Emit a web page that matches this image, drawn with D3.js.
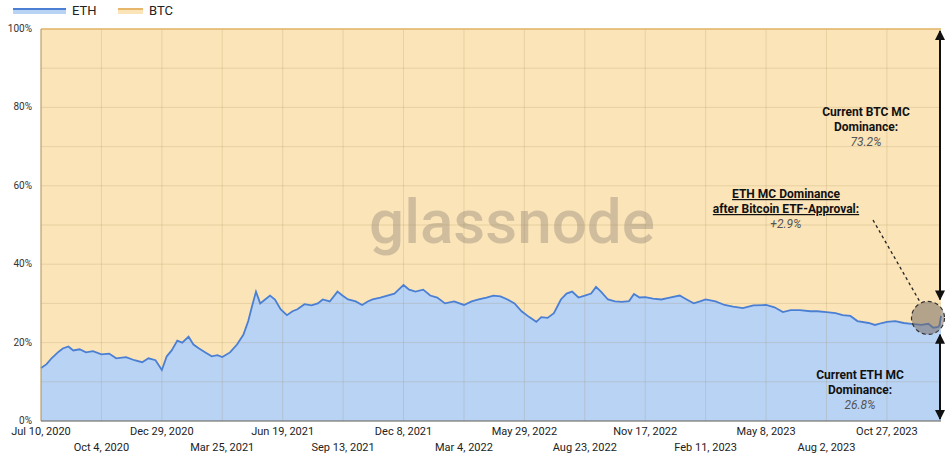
<!DOCTYPE html><html><head><meta charset="utf-8"><script src="https://cdn.jsdelivr.net/npm/d3@7"></script>
<style>body{margin:0;background:#fff;font-family:Roboto,"Noto Sans",sans-serif}</style></head><body><svg id="c" width="948" height="457"></svg><script>
const ethDates=["2020-07-10","2020-07-18","2020-07-25","2020-08-03","2020-08-10","2020-08-18","2020-08-25","2020-09-03","2020-09-12","2020-09-22","2020-10-04","2020-10-15","2020-10-25","2020-11-08","2020-11-20","2020-12-01","2020-12-10","2020-12-20","2020-12-29","2021-01-05","2021-01-12","2021-01-20","2021-01-27","2021-02-05","2021-02-12","2021-02-20","2021-03-01","2021-03-10","2021-03-18","2021-03-25","2021-04-05","2021-04-15","2021-04-24","2021-05-01","2021-05-06","2021-05-12","2021-05-18","2021-05-25","2021-06-01","2021-06-08","2021-06-16","2021-06-25","2021-07-03","2021-07-10","2021-07-20","2021-07-30","2021-08-08","2021-08-15","2021-08-25","2021-09-05","2021-09-12","2021-09-20","2021-10-01","2021-10-10","2021-10-18","2021-10-25","2021-11-05","2021-11-15","2021-11-25","2021-12-01","2021-12-08","2021-12-16","2021-12-25","2022-01-05","2022-01-15","2022-01-25","2022-02-05","2022-02-18","2022-03-04","2022-03-15","2022-03-25","2022-04-05","2022-04-15","2022-04-25","2022-05-05","2022-05-15","2022-05-25","2022-06-05","2022-06-15","2022-06-22","2022-07-01","2022-07-10","2022-07-20","2022-07-28","2022-08-05","2022-08-14","2022-08-23","2022-09-01","2022-09-08","2022-09-15","2022-09-25","2022-10-05","2022-10-15","2022-10-25","2022-11-01","2022-11-09","2022-11-17","2022-11-28","2022-12-10","2022-12-22","2023-01-05","2023-01-15","2023-01-25","2023-02-03","2023-02-11","2023-02-25","2023-03-10","2023-03-22","2023-04-05","2023-04-20","2023-05-08","2023-05-20","2023-06-01","2023-06-12","2023-06-25","2023-07-10","2023-07-20","2023-08-02","2023-08-15","2023-08-25","2023-09-05","2023-09-15","2023-10-01","2023-10-10","2023-10-20","2023-10-27","2023-11-08","2023-11-20","2023-12-01","2023-12-15","2023-12-25","2024-01-01","2024-01-08","2024-01-10","2024-01-12"];
const ethValues=[13.5,14.5,16,17.5,18.5,19,18,18.3,17.5,17.8,17,17.2,16,16.3,15.5,15,16,15.5,13,16.5,18,20.5,20,21.5,19.5,18.5,17.5,16.5,16.8,16.3,17.5,19.5,22,25.5,29,33,30,31,32,31,28.5,27,28,28.5,29.8,29.5,30,31,30.5,33,32,31,30.5,29.6,30.5,31,31.5,32,32.5,33.5,34.7,33.5,33,33.5,32,31.5,30,30.5,29.6,30.5,31,31.5,32,31.8,31,30,28,26.5,25.3,26.5,26.3,27.5,31,32.5,33,31.5,32,32.5,34.2,33,31,30.5,30.4,30.6,32.4,31.5,31.6,31.2,31,31.5,32,31,30,30.5,31,30.5,29.6,29.2,28.8,29.5,29.6,29,27.8,28.3,28.3,28,28,27.8,27.5,27,26.8,25.5,25,24.5,25,25.3,25.5,25,24.8,24.5,24.8,23.8,24,24.5,26.8];
const xTicks=["2020-07-10","2020-10-04","2020-12-29","2021-03-25","2021-06-19","2021-09-13","2021-12-08","2022-03-04","2022-05-29","2022-08-23","2022-11-17","2023-02-11","2023-05-08","2023-08-02","2023-10-27"];
const yTicks=[0,20,40,60,80,100];
const svg=d3.select("#c");
const pd=d3.timeParse("%Y-%m-%d");
const data=ethDates.map((d,i)=>({d:pd(d),v:ethValues[i]}));
const x=d3.scaleTime().domain([pd("2020-07-10"),pd("2024-01-12")]).range([41,941]);
const y=d3.scaleLinear().domain([0,100]).range([421,29]);
svg.append("rect").attr("x",41).attr("y",y(100)).attr("width",900).attr("height",y(0)-y(100)).attr("fill","#fae4b8");
svg.append("path").datum(data).attr("fill","#b9d3f5").attr("d",d3.area().x(d=>x(d.d)).y0(y(0)).y1(d=>y(d.v)));
const g=svg.append("g");
d3.range(0,101,10).forEach(v=>g.append("line").attr("x1",41).attr("x2",941).attr("y1",y(v)).attr("y2",y(v)).attr("stroke","rgba(150,120,60,0.18)"));
xTicks.forEach(t=>g.append("line").attr("x1",x(pd(t))).attr("x2",x(pd(t))).attr("y1",y(0)).attr("y2",y(100)).attr("stroke","rgba(150,120,60,0.18)"));
svg.append("line").attr("x1",41).attr("x2",941).attr("y1",y(100)).attr("y2",y(100)).attr("stroke","#e6b66a").attr("stroke-width",1.5);
svg.append("path").datum(data).attr("fill","none").attr("stroke","#4a7fd4").attr("stroke-width",1.8).attr("d",d3.line().x(d=>x(d.d)).y(d=>y(d.v)));
svg.append("line").attr("x1",41).attr("x2",41).attr("y1",y(0)).attr("y2",y(100)).attr("stroke","#b89a60");
svg.append("line").attr("x1",41).attr("x2",941).attr("y1",y(0)).attr("y2",y(0)).attr("stroke","#666");
svg.append("text").attr("x",512).attr("y",243).attr("text-anchor","middle").attr("font-size",62).attr("font-weight","500").attr("font-family","Roboto").attr("fill","rgba(120,110,100,0.32)").text("glassnode");
yTicks.forEach(v=>svg.append("text").attr("x",32).attr("y",y(v)+3).attr("text-anchor","end").attr("font-size",10).attr("fill","#333").text(v+"%"));
xTicks.forEach((t,i)=>svg.append("text").attr("x",x(pd(t))).attr("y",i%2?451:435).attr("text-anchor","middle").attr("font-size",11).attr("fill","#222").text(d3.timeFormat("%b %-d, %Y")(pd(t))));
svg.append("line").attr("x1",13).attr("x2",66).attr("y1",11).attr("y2",11).attr("stroke","#b9d3f5").attr("stroke-width",6);
svg.append("line").attr("x1",13).attr("x2",66).attr("y1",9).attr("y2",9).attr("stroke","#4a7fd4").attr("stroke-width",2);
svg.append("text").attr("x",72).attr("y",15).attr("font-size",13).attr("fill","#222").text("ETH");
svg.append("line").attr("x1",118).attr("x2",143).attr("y1",11).attr("y2",11).attr("stroke","#fae4b8").attr("stroke-width",6);
svg.append("line").attr("x1",118).attr("x2",143).attr("y1",9).attr("y2",9).attr("stroke","#e6b66a").attr("stroke-width",2);
svg.append("text").attr("x",149).attr("y",15).attr("font-size",13).attr("fill","#222").text("BTC");
const defs=svg.append("defs");
defs.append("marker").attr("id","ah").attr("viewBox","0 0 10 10").attr("refX",9).attr("refY",5).attr("markerWidth",5).attr("markerHeight",5).attr("orient","auto-start-reverse").append("path").attr("d","M0,0L10,5L0,10z").attr("fill","#111");
const ax=940;
svg.append("line").attr("x1",ax).attr("x2",ax).attr("y1",y(99.5)).attr("y2",y(31)).attr("stroke","#111").attr("stroke-width",2).attr("marker-start","url(#ah)").attr("marker-end","url(#ah)");
svg.append("line").attr("x1",ax).attr("x2",ax).attr("y1",y(22)).attr("y2",y(0.5)).attr("stroke","#111").attr("stroke-width",2).attr("marker-start","url(#ah)").attr("marker-end","url(#ah)");
svg.append("line").attr("x1",873).attr("x2",920).attr("y1",220).attr("y2",302).attr("stroke","#222").attr("stroke-width",1.3).attr("stroke-dasharray","3,3");
svg.append("circle").attr("cx",928).attr("cy",y(26.3)).attr("r",16.5).attr("fill","rgba(120,110,100,0.55)").attr("stroke","#333").attr("stroke-dasharray","4,3").attr("stroke-width",1.2);
function txt(xx,yy,s,bold,ital,col,ul){const t=svg.append("text").attr("x",xx).attr("y",yy).attr("text-anchor","middle").attr("font-size",12).attr("fill",col||"#111").attr("font-weight",bold?"bold":"normal").attr("font-style",ital?"italic":"normal").text(s);if(ul)t.attr("text-decoration","underline");}
txt(866,116,"Current BTC MC",1);txt(866,131,"Dominance:",1);txt(866,146,"73.2%",0,1,"#555");
txt(786,198,"ETH MC Dominance",1,0,null,1);txt(786,213,"after Bitcoin ETF-Approval:",1,0,null,1);txt(786,228,"+2.9%",0,1,"#555");
txt(860,379,"Current ETH MC",1);txt(860,394,"Dominance:",1);txt(860,409,"26.8%",0,1,"#555");
</script></body></html>
